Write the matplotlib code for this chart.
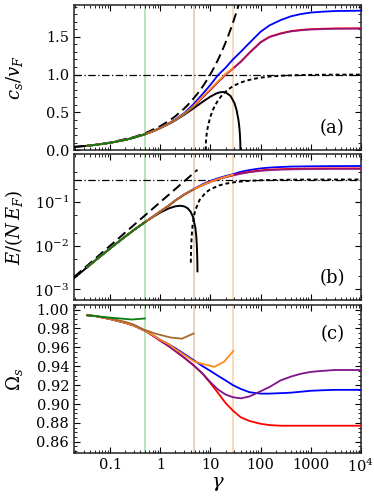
import matplotlib
matplotlib.use('Agg')
import matplotlib.pyplot as plt
from matplotlib.ticker import MultipleLocator, LogLocator, NullFormatter, FixedLocator, FixedFormatter

# ---- data ----
# coupling values where the finite-N curves are sampled
g_curve = [0.035, 0.05, 0.1, 0.2, 0.3, 0.5, 0.7, 1, 1.5, 2, 3, 4.6, 7, 10, 14, 20, 28,
           40, 60, 100, 150, 250, 400, 630, 1000, 1600, 3000, 10000]

# cut-off couplings (vertical guide lines)
gamma_marks = [0.49, 4.6, 28.4]

# (a) sound velocity c_s / v_F
cs_blue = [0.0587, 0.070, 0.098, 0.137, 0.167, 0.213, 0.250, 0.296, 0.358, 0.408, 0.490, 0.610,
           0.745, 0.865, 0.99, 1.09, 1.20, 1.30, 1.42, 1.567, 1.65, 1.72, 1.77, 1.80, 1.82, 1.83, 1.84, 1.845]
cs_red = [0.0587, 0.070, 0.098, 0.137, 0.167, 0.212, 0.249, 0.294, 0.354, 0.402, 0.478, 0.580,
          0.700, 0.80, 0.90, 1.00, 1.08, 1.17, 1.29, 1.43, 1.50, 1.545, 1.575, 1.59, 1.60, 1.605, 1.61, 1.612]
cs_purple = [0.0587, 0.070, 0.098, 0.137, 0.167, 0.212, 0.249, 0.294, 0.354, 0.402, 0.478, 0.580,
             0.698, 0.798, 0.898, 0.997, 1.077, 1.166, 1.286, 1.425, 1.495, 1.54, 1.57, 1.585, 1.595, 1.60, 1.605, 1.607]
cs_orange = [0.0587, 0.070, 0.098, 0.137, 0.167, 0.212, 0.249, 0.294, 0.355, 0.404, 0.481, 0.585,
             0.71, 0.81, 0.91, 1.01, 1.085]
cs_brown = [0.0587, 0.070, 0.098, 0.137, 0.167, 0.212, 0.249, 0.294, 0.354, 0.402, 0.478, 0.575]
cs_green = [0.0587, 0.070, 0.098, 0.137, 0.167, 0.212]

g_bog_a = [0.019, 0.03, 0.05, 0.1, 0.2, 0.3, 0.5, 0.7, 1, 1.5, 2, 3, 4.6, 7, 10, 13, 15, 17.5, 20,
           25, 30, 33, 36, 37, 38, 38.5, 39, 39.3, 39.45, 39.478]
cs_bog = [0.0434, 0.0544, 0.0699, 0.0981, 0.1372, 0.1666, 0.2120, 0.2480, 0.2919, 0.3498, 0.3963,
          0.4692, 0.5541, 0.6408, 0.7094, 0.7492, 0.7636, 0.7698, 0.7642, 0.7192, 0.6245, 0.5354,
          0.4056, 0.3458, 0.2698, 0.2206, 0.1551, 0.0949, 0.038, 0.0]

g_mf_a = [0.019, 0.03, 0.05, 0.1, 0.3, 0.5, 1, 1.5, 2, 3, 4, 5.5, 7, 8.5, 10, 12, 14, 17, 20, 23,
          26, 29, 32, 35, 38]
cs_mf = [0.0439, 0.0551, 0.0712, 0.1007, 0.1743, 0.2251, 0.3183, 0.3898, 0.4502, 0.5513, 0.6366,
         0.7465, 0.8422, 0.9280, 1.0066, 1.1027, 1.1910, 1.3124, 1.4235, 1.5265, 1.6231, 1.7142,
         1.8006, 1.8831, 1.9622]

g_tg_a = [8, 8.05, 8.2, 8.5, 9, 10, 11, 12, 14, 17, 20, 25, 30, 40, 50, 70, 100, 150, 200, 300,
          500, 1000, 3000, 10000]
cs_tg = [0.0, 0.0788, 0.1562, 0.2425, 0.3333, 0.4472, 0.5222, 0.5774, 0.6547, 0.7276, 0.7746,
         0.8246, 0.8563, 0.8944, 0.9165, 0.9411, 0.9592, 0.9730, 0.9798, 0.9866, 0.9920, 0.9960,
         0.9987, 0.9996]

# (b) energy per particle E/(N E_F)
en_blue = [0.00327, 0.00459, 0.00877, 0.0164, 0.0233, 0.0355, 0.046, 0.062, 0.086, 0.111, 0.152, 0.200,
           0.26, 0.31, 0.355, 0.40, 0.44, 0.50, 0.55, 0.60, 0.625, 0.645, 0.66, 0.665, 0.67, 0.673, 0.677, 0.68]
en_red = [0.00327, 0.00459, 0.00877, 0.0164, 0.0233, 0.0355, 0.046, 0.062, 0.085, 0.110, 0.150, 0.198,
          0.25, 0.295, 0.34, 0.38, 0.42, 0.46, 0.50, 0.54, 0.56, 0.575, 0.585, 0.59, 0.595, 0.598, 0.60, 0.60]
en_purple = [0.00327, 0.00459, 0.00877, 0.0164, 0.0233, 0.0355, 0.046, 0.062, 0.085, 0.110, 0.150, 0.197,
             0.248, 0.292, 0.335, 0.375, 0.412, 0.45, 0.49, 0.525, 0.545, 0.56, 0.568, 0.573, 0.577, 0.579, 0.58, 0.58]
en_orange = [0.00327, 0.00459, 0.00877, 0.0164, 0.0233, 0.0355, 0.046, 0.062, 0.085, 0.110, 0.150, 0.197,
             0.25, 0.295, 0.34, 0.385, 0.43]
en_brown = [0.00327, 0.00459, 0.00877, 0.0164, 0.0233, 0.0355, 0.046, 0.062, 0.085, 0.110, 0.150, 0.196]
en_green = [0.00327, 0.00459, 0.00877, 0.0164, 0.0233, 0.0355]

g_bog_b = [0.019, 0.05, 0.1, 0.2, 0.3, 0.5, 0.7, 1, 1.5, 2, 2.5, 3, 3.5, 4, 4.5, 5, 5.2, 5.35, 5.45, 5.5]
en_bog = [0.001813, 0.004585, 0.008772, 0.01642, 0.02333, 0.03546, 0.04574, 0.05832, 0.07298, 0.08101,
          0.08333, 0.08052, 0.07305, 0.06127, 0.04545, 0.02583, 0.01696, 0.00994, 0.00509, 0.0026]
g_mf_b = [0.019, 1, 5.5]
en_mf = [0.001925, 0.1013, 0.5573]
g_tg_b = [4.05, 4.1, 4.2, 4.4, 4.7, 5, 6, 8, 10, 15, 20, 30, 50, 100, 300, 1000, 10000]
en_tg = [0.004115, 0.00813, 0.01587, 0.0303, 0.04965, 0.0667, 0.1111, 0.1667, 0.2, 0.2444, 0.2667,
         0.2889, 0.3067, 0.32, 0.3289, 0.332, 0.3332]

# (c) Omega_s
om_blue = [0.994, 0.9932, 0.990, 0.986, 0.983, 0.9775, 0.973, 0.968, 0.963, 0.959, 0.953, 0.9465,
           0.940, 0.935, 0.930, 0.925, 0.920, 0.916, 0.9125, 0.911, 0.911, 0.9115, 0.912, 0.913,
           0.914, 0.9145, 0.915, 0.915]
om_red = [0.994, 0.9932, 0.990, 0.986, 0.983, 0.9775, 0.9725, 0.967, 0.961, 0.956, 0.949, 0.941,
          0.932, 0.922, 0.912, 0.901, 0.893, 0.886, 0.882, 0.879, 0.8777, 0.877, 0.877, 0.877,
          0.877, 0.877, 0.877, 0.877]
om_purple = [0.994, 0.9932, 0.990, 0.986, 0.983, 0.9775, 0.9725, 0.967, 0.961, 0.956, 0.949, 0.941,
             0.932, 0.923, 0.9155, 0.910, 0.9072, 0.906, 0.908, 0.9135, 0.918, 0.925, 0.929, 0.932,
             0.934, 0.935, 0.936, 0.936]
g_om_orange = [0.035, 0.05, 0.1, 0.2, 0.3, 0.5, 0.7, 1, 1.5, 2, 3, 4.6, 6.3, 12, 18.5, 28.4]
om_orange = [0.994, 0.9932, 0.990, 0.986, 0.983, 0.9775, 0.973, 0.968, 0.963, 0.958, 0.952, 0.9455,
             0.943, 0.9394, 0.9447, 0.956]
g_om_brown = [0.035, 0.05, 0.1, 0.2, 0.3, 0.46, 0.8, 1.58, 2.7, 4.6]
om_brown = [0.994, 0.9933, 0.9905, 0.987, 0.984, 0.979, 0.9745, 0.9705, 0.9692, 0.9747]
g_om_green = [0.035, 0.1, 0.27, 0.49]
om_green = [0.994, 0.9915, 0.9895, 0.9906]

x_ticks = [0.1, 1, 10, 100, 1000, 10000]
x_ticklabels = ['0.1', '1', '10', '100', '1000', r'$10^4$']

colors = {'blue': '#0000ff', 'red': '#ff0000', 'purple': '#80128a', 'orange': '#ff8a1c',
          'brown': '#a26a30', 'green': '#0b7d12'}
mark_colors = ['#a6dca6', '#e0c4ac', '#fbcfa3']

plt.rcParams['font.family'] = 'DejaVu Serif'
plt.rcParams['mathtext.fontset'] = 'dejavuserif'
plt.rcParams['font.size'] = 10

fig = plt.figure(figsize=(3.74, 4.99), dpi=100)
left, width = 0.198, 0.767
ax_a = fig.add_axes([left, 0.699, width, 0.291])
ax_b = fig.add_axes([left, 0.398, width, 0.293])
ax_c = fig.add_axes([left, 0.092, width, 0.297])

lw = 1.3


def style(ax):
    ax.set_xscale('log')
    ax.set_xlim(0.019, 1e4)
    ax.xaxis.set_major_locator(FixedLocator(x_ticks))
    ax.xaxis.set_minor_locator(LogLocator(base=10, subs=range(2, 10)))
    ax.xaxis.set_minor_formatter(NullFormatter())
    ax.tick_params(which='both', direction='in', top=True, right=True, labelsize=10.5)
    ax.tick_params(which='major', length=4, width=0.8)
    ax.tick_params(which='minor', length=2, width=0.6)
    for s in ax.spines.values():
        s.set_linewidth(1.1)
        s.set_color('#222222')
    for g, c in zip(gamma_marks, mark_colors):
        ax.axvline(g, color=c, lw=1.1, zorder=1)
    ax.yaxis.set_label_coords(-0.17, 0.5)


for ax in (ax_a, ax_b, ax_c):
    style(ax)

# (a)
ax_a.axhline(1.0, color='black', lw=0.9, ls=(0, (6, 2, 1, 2)), zorder=2)
ax_a.plot(g_bog_a, cs_bog, color='black', lw=1.4, zorder=3)
ax_a.plot(g_mf_a, cs_mf, color='black', lw=1.4, ls=(0, (5, 2.5)), zorder=3)
ax_a.plot(g_tg_a, cs_tg, color='black', lw=1.4, ls=(0, (2, 1.5)), zorder=3)
ax_a.plot(g_curve, cs_blue, color=colors['blue'], lw=lw, zorder=4)
ax_a.plot(g_curve, cs_red, color=colors['red'], lw=lw, zorder=4)
ax_a.plot(g_curve, cs_purple, color=colors['purple'], lw=lw, alpha=0.8, zorder=4)
ax_a.plot(g_curve[:17], cs_orange, color=colors['orange'], lw=lw, zorder=4)
ax_a.plot(g_curve[:12], cs_brown, color=colors['brown'], lw=lw, zorder=4)
ax_a.plot(g_curve[:6], cs_green, color=colors['green'], lw=lw, zorder=4)
ax_a.set_ylim(0, 1.92)
ax_a.yaxis.set_major_locator(MultipleLocator(0.5))
ax_a.yaxis.set_minor_locator(MultipleLocator(0.1))
ax_a.set_ylabel(r'$c_s/v_F$', fontsize=13)
ax_a.tick_params(labelbottom=False)
ax_a.text(0.9, 0.155, '(a)', transform=ax_a.transAxes, fontsize=13, ha='center', va='center')

# (b)
ax_b.set_yscale('log')
ax_b.axhline(1 / 3, color='black', lw=0.9, ls=(0, (6, 2, 1, 2)), zorder=2)
ax_b.plot(g_bog_b, en_bog, color='black', lw=1.4, zorder=3)
ax_b.plot(g_mf_b, en_mf, color='black', lw=1.4, ls=(0, (5, 2.5)), zorder=3)
ax_b.plot(g_tg_b, en_tg, color='black', lw=1.4, ls=(0, (2, 1.5)), zorder=3)
ax_b.plot(g_curve, en_blue, color=colors['blue'], lw=lw, zorder=4)
ax_b.plot(g_curve, en_red, color=colors['red'], lw=lw, zorder=4)
ax_b.plot(g_curve, en_purple, color=colors['purple'], lw=lw, alpha=0.8, zorder=4)
ax_b.plot(g_curve[:17], en_orange, color=colors['orange'], lw=lw, zorder=4)
ax_b.plot(g_curve[:12], en_brown, color=colors['brown'], lw=lw, zorder=4)
ax_b.plot(g_curve[:6], en_green, color=colors['green'], lw=lw, zorder=4)
ax_b.set_ylim(5.6e-4, 1.27)
ax_b.yaxis.set_major_locator(FixedLocator([1e-3, 1e-2, 1e-1]))
ax_b.yaxis.set_minor_locator(LogLocator(base=10, subs=(2, 5)))
ax_b.yaxis.set_minor_formatter(NullFormatter())
ax_b.set_ylabel(r'$E/(N\,E_F)$', fontsize=13)
ax_b.tick_params(labelbottom=False)
ax_b.text(0.9, 0.154, '(b)', transform=ax_b.transAxes, fontsize=13, ha='center', va='center')

# (c)
ax_c.plot(g_curve, om_blue, color=colors['blue'], lw=lw, zorder=4)
ax_c.plot(g_curve, om_red, color=colors['red'], lw=lw, zorder=4)
ax_c.plot(g_curve, om_purple, color=colors['purple'], lw=lw, zorder=4)
ax_c.plot(g_om_orange, om_orange, color=colors['orange'], lw=lw, zorder=4)
ax_c.plot(g_om_brown, om_brown, color=colors['brown'], lw=lw, zorder=4)
ax_c.plot(g_om_green, om_green, color=colors['green'], lw=lw, zorder=4)
ax_c.set_ylim(0.848, 1.005)
ax_c.yaxis.set_major_locator(MultipleLocator(0.02))
ax_c.yaxis.set_minor_locator(MultipleLocator(0.005))
ax_c.yaxis.set_major_formatter(plt.FuncFormatter(lambda v, p: f'{v:.2f}'))
ax_c.xaxis.set_major_formatter(FixedFormatter(x_ticklabels))
ax_c.set_ylabel(r'$\mathit{\Omega}_s$', fontsize=13)
ax_c.set_xlabel(r'$\gamma$', fontsize=14, labelpad=0)
ax_c.text(0.9, 0.80, '(c)', transform=ax_c.transAxes, fontsize=13, ha='center', va='center')

fig.savefig('out.png', dpi=100)
